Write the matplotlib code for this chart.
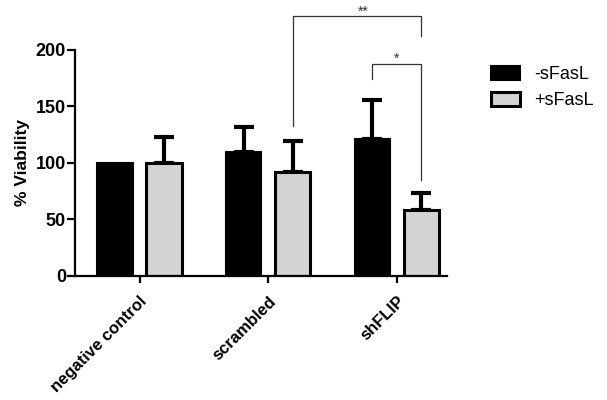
import matplotlib.pyplot as plt
import numpy as np
from matplotlib.patches import Patch

plt.rcParams['font.family'] = ['Liberation Sans', 'DejaVu Sans']

groups = ["negative control", "scrambled", "shFLIP"]
minus_sfasl = [100, 110, 121]
minus_err = [0, 22, 35]
plus_sfasl = [100, 92, 58]
plus_err = [22.5, 27, 15.5]
series_labels = ["-sFasL", "+sFasL"]

fig = plt.figure(figsize=(6.07, 4.0), dpi=100)
ax = fig.add_axes([75 / 607, 1 - 275.7 / 400, 372 / 607, 225.7 / 400])

x = np.arange(len(groups))
w = 0.275
off = 0.19

ax.bar(x - off, minus_sfasl, w, color='black', edgecolor='black', linewidth=1.5, zorder=2)
ax.bar(x + off, plus_sfasl, w, color='#d3d3d3', edgecolor='black', linewidth=2.2, zorder=2)

# upper error bars only (skip zero errors)
for xs, vals, errs in [(x - off, minus_sfasl, minus_err), (x + off, plus_sfasl, plus_err)]:
    keep = np.array(errs) > 0
    ax.errorbar(xs[keep], np.array(vals)[keep],
                yerr=[np.zeros(keep.sum()), np.array(errs)[keep]], fmt='none',
                ecolor='black', elinewidth=3, capsize=7.2, capthick=3, zorder=1)

# significance brackets
bc = '#333333'
ax.plot([1 + off, 1 + off, 2 + off, 2 + off], [133, 230, 230, 212],
        color=bc, lw=0.9, clip_on=False)
ax.text(1.74, 234, "**", ha='center', va='center', fontsize=10, color=bc)
ax.plot([2 - off, 2 - off, 2 + off, 2 + off], [174, 187.5, 187.5, 85],
        color=bc, lw=0.9, clip_on=False)
ax.text(2.0, 192, "*", ha='center', va='center', fontsize=10, color=bc)

ax.set_xlim(-0.502, 2.39)
ax.set_ylim(0, 200)
ax.set_yticks([0, 50, 100, 150, 200])
ax.set_xticks(x)
ax.set_xticklabels(groups, rotation=45, ha='right', rotation_mode='anchor')
for sp in ['top', 'right']:
    ax.spines[sp].set_visible(False)
for sp in ['left', 'bottom']:
    ax.spines[sp].set_linewidth(1.6)
ax.tick_params(axis='y', width=1.6, length=5.5, labelsize=13, pad=1)
ax.tick_params(axis='x', width=1.6, length=5, labelsize=12, pad=8)
for lab in ax.get_xticklabels() + ax.get_yticklabels():
    lab.set_fontweight('bold')
ax.set_ylabel("% Viability", fontsize=12.5, fontweight='bold', labelpad=4)

handles = [Patch(facecolor='black', edgecolor='black', linewidth=1.5),
           Patch(facecolor='#d3d3d3', edgecolor='black', linewidth=2.2)]
fig.legend(handles, series_labels, loc='upper left', bbox_to_anchor=(475 / 607, 1 - 50 / 400),
           frameon=False, fontsize=13, handlelength=1.6, handleheight=0.75,
           labelspacing=0.5, handletextpad=0.8)

fig.savefig("out.png", dpi=100)
